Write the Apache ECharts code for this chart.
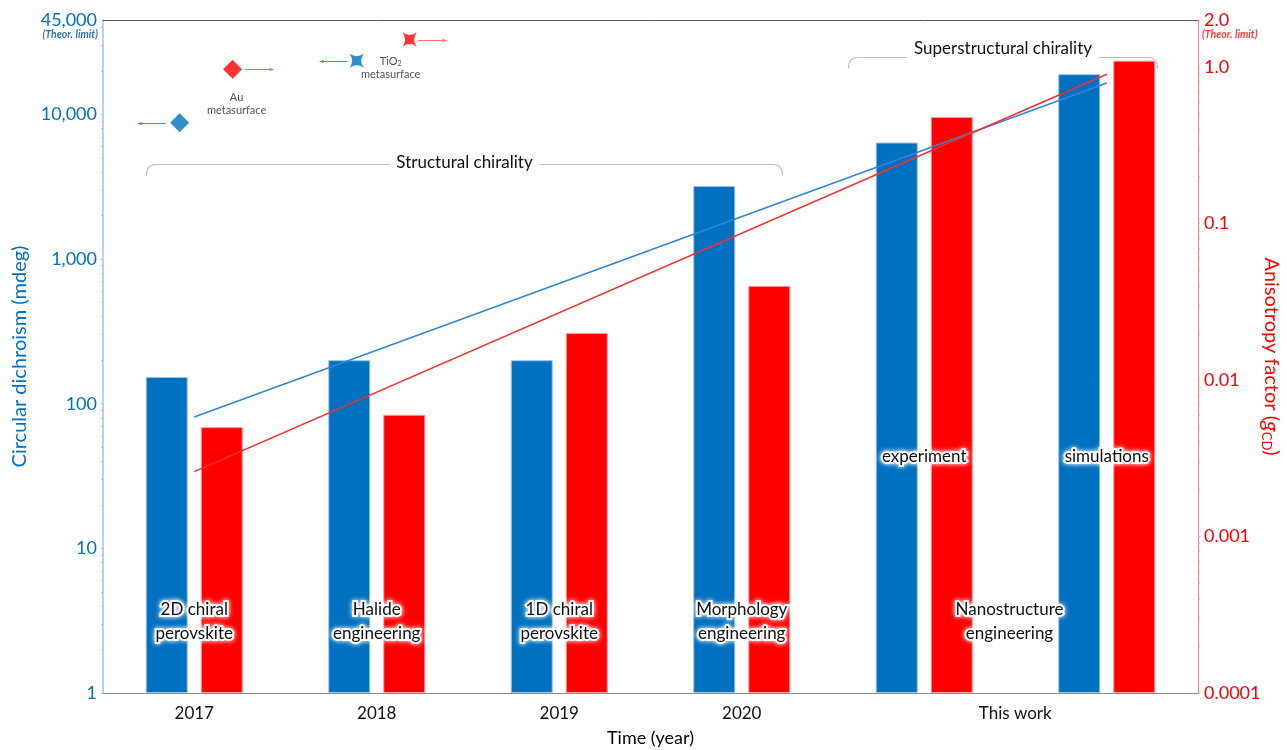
<!DOCTYPE html>
<html><head><meta charset="utf-8">
<script src="https://cdn.jsdelivr.net/npm/echarts@6/dist/echarts.min.js"></script>
<style>html,body{margin:0;padding:0;background:#fff;overflow:hidden;width:1287px;height:750px}#chart{width:1287px;height:750px}</style>
</head><body><div id="chart"></div>
<script>
// Categories along the time axis (the last two share the "This work" group label)
const categories = ['2017', '2018', '2019', '2020', 'This work', 'This work'];
const thisWorkLabel = 'This work';

// Circular dichroism (mdeg, left log axis) and anisotropy factor (g_CD, right log axis)
const circularDichroism = [153, 200, 200, 3200, 6400, 19000];
const anisotropyFactor = [0.005, 0.006, 0.02, 0.04, 0.48, 1.1];

// Exponential trend lines, start/end at first and last category
const cdTrend = [[0, 81], [5, 16500]];
const gTrend = [[0, 0.0026], [5, 0.90]];

// Approach labels drawn on the bar groups
const approaches = ['2D chiral\nperovskite', 'Halide\nengineering', '1D chiral\nperovskite', 'Morphology\nengineering'];
const thisWorkApproach = 'Nanostructure\nengineering';
const thisWorkNotes = ['experiment', 'simulations'];

// Metasurface reference points: [year, value]
const auCD = [[2016.92, 8750]];
const auG = [[2017.21, 0.97]];
const tio2CD = [[2017.89, 23500]];
const tio2G = [[2018.18, 1.5]];

// Axis labels
const cdTicks = [1, 10, 100, 1000, 10000, 45000];
const gTicks = [0.0001, 0.001, 0.01, 0.1, 1, 2];
const limitNote = '(Theor. limit)';

// Bracket annotations
const bracketTexts = ['Structural chirality', 'Superstructural chirality'];

const FONT = 'Lato, "Open Sans", sans-serif';
const BLUE = '#0070C0';
const RED = '#FF0000';
const W = 1287, H = 750;

function logMinor(from, to, extra) {
  const out = [];
  for (let d = from; d < to; d *= 10) {
    for (let k = 1; k < 10; k++) out.push(Number((k * d).toPrecision(6)));
  }
  out.push(to);
  return out.concat(extra || []);
}
const cdMinor = logMinor(1, 10000, [20000, 30000, 40000]);
const gMinor = logMinor(0.0001, 1, [2]);

const clean = v => Number(Number(v).toPrecision(6));

const STAR = 'path://M0,0 Q10,7 20,0 Q13,10 20,20 Q10,13 0,20 Q7,10 0,0Z';

function arrowSeries(data, yAxisIndex, color, dir, gap) {
  return {
    type: 'custom', xAxisIndex: 2, yAxisIndex: yAxisIndex, data: data, z: 4, silent: true,
    renderItem: function (params, api) {
      const p = api.coord([api.value(0), api.value(1)]);
      const y = Math.round(p[1]) + 0.5;
      const x0 = p[0] + dir * gap, x1 = p[0] + dir * (gap + 28);
      return {
        type: 'group', children: [
          { type: 'line', shape: { x1: x0, y1: y, x2: x1, y2: y }, style: { stroke: color, lineWidth: 1 } },
          { type: 'polygon', shape: { points: [[x1, y], [x1 - dir * 4, y - 1.8], [x1 - dir * 4, y + 1.8]] }, style: { fill: color } }
        ]
      };
    }
  };
}

const chart = echarts.init(document.getElementById('chart'), null, { renderer: 'canvas', width: W, height: H });

const option = {
  animation: false,
  backgroundColor: '#fff',
  textStyle: { fontFamily: FONT },
  grid: { left: 103, right: 89, top: 20, bottom: 57, containLabel: false, outerBoundsMode: 'none' },
  xAxis: [
    {
      type: 'category', data: categories, position: 'bottom',
      name: 'Time (year)', nameLocation: 'middle', nameGap: 36,
      nameTextStyle: { color: '#000', fontSize: 18, fontFamily: FONT },
      axisLine: { show: true, lineStyle: { color: '#8C8C8C', width: 1 } },
      axisTick: { show: false },
      axisLabel: {
        interval: 0, margin: 12, color: '#111', fontSize: 17, fontFamily: FONT,
        formatter: function (v, i) { return i === 4 ? '{w|' + thisWorkLabel + '}' : (i === 5 ? '' : v); },
        rich: { w: { padding: [0, 0, 0, 182], color: '#111', fontSize: 17, fontFamily: FONT } }
      },
      splitLine: { show: false }
    },
    {
      type: 'category', data: categories, position: 'top',
      axisLine: { show: true, lineStyle: { color: '#595959', width: 1 } },
      axisTick: { show: false }, axisLabel: { show: false }, splitLine: { show: false }
    },
    { type: 'value', min: 2016.5, max: 2022.5, show: false }
  ],
  yAxis: [
    {
      type: 'log', logBase: 10, min: 1, max: 45000, position: 'left',
      name: 'Circular dichroism (mdeg)', nameLocation: 'middle', nameGap: 72, nameRotate: 90,
      nameTextStyle: { color: BLUE, fontSize: 20, fontFamily: FONT },
      axisLine: { show: true, lineStyle: { color: '#9DC3E6', width: 1.5 } },
      axisTick: { show: true, length: 2, customValues: cdMinor, lineStyle: { color: '#9DC3E6' } },
      axisLabel: {
        customValues: cdTicks, margin: 6, color: BLUE, fontSize: 18, fontFamily: FONT,
        formatter: function (v) { return clean(v).toLocaleString('en-US'); }
      },
      splitLine: { show: false }
    },
    {
      type: 'log', logBase: 10, min: 0.0001, max: 2, position: 'right', startValue: 0.0001,
      name: '{n|Anisotropy factor (}{i|g}{s|CD}{n|)}', nameLocation: 'middle', nameGap: 62, nameRotate: -90,
      nameMoveOverlap: false,
      nameTextStyle: {
        color: RED, fontSize: 20, fontFamily: FONT,
        rich: {
          n: { color: RED, fontSize: 20, fontFamily: FONT },
          i: { color: RED, fontSize: 22, fontStyle: 'italic', fontFamily: FONT },
          s: { color: RED, fontSize: 13, fontFamily: FONT, padding: [9, 0, 0, 0] }
        }
      },
      axisLine: { show: true, lineStyle: { color: '#FF7F7F', width: 1 } },
      axisTick: { show: true, length: 2, customValues: gMinor, lineStyle: { color: '#FF9F9F' } },
      axisLabel: {
        customValues: gTicks, margin: 6, color: RED, fontSize: 18, fontFamily: FONT,
        formatter: function (v) { const n = clean(v); return n >= 1 ? n.toFixed(1) : String(n); }
      },
      splitLine: { show: false }
    }
  ],
  series: [
    {
      type: 'bar', name: 'CD', xAxisIndex: 0, yAxisIndex: 0, data: circularDichroism,
      barWidth: 42, barGap: '31%', z: 2,
      itemStyle: { color: BLUE, borderColor: '#9DC3E6', borderWidth: 1 }
    },
    {
      type: 'bar', name: 'gCD', xAxisIndex: 0, yAxisIndex: 1, data: anisotropyFactor,
      barWidth: 42, barGap: '31%', z: 2,
      itemStyle: { color: RED, borderColor: '#FF9F9F', borderWidth: 1 }
    },
    {
      type: 'line', xAxisIndex: 0, yAxisIndex: 0, data: cdTrend, showSymbol: false, z: 3,
      lineStyle: { color: '#2E86D6', width: 1.5 }, silent: true
    },
    {
      type: 'line', xAxisIndex: 0, yAxisIndex: 1, data: gTrend, showSymbol: false, z: 3,
      lineStyle: { color: '#FF2A2A', width: 1.5 }, silent: true
    },
    {
      type: 'scatter', xAxisIndex: 2, yAxisIndex: 0, data: auCD, symbol: 'diamond', symbolSize: [19, 19],
      itemStyle: { color: BLUE }, z: 5
    },
    {
      type: 'scatter', xAxisIndex: 2, yAxisIndex: 1, data: auG, symbol: 'diamond', symbolSize: [19, 19],
      itemStyle: { color: RED }, z: 5,
      label: {
        show: true, position: 'bottom', distance: 12, offset: [4, 0], formatter: 'Au\nmetasurface',
        color: '#262626', fontSize: 11, lineHeight: 13, fontFamily: FONT
      }
    },
    {
      type: 'scatter', xAxisIndex: 2, yAxisIndex: 0, data: tio2CD, symbol: STAR, symbolSize: [14, 14],
      itemStyle: { color: BLUE }, z: 5,
      label: {
        show: true, position: 'inside', offset: [34, 7],
        formatter: '{t|TiO}{b|2}\n{t|metasurface}',
        rich: {
          t: { color: '#262626', fontSize: 11, lineHeight: 13, fontFamily: FONT },
          b: { color: '#262626', fontSize: 7, lineHeight: 13, fontFamily: FONT, padding: [5, 0, 0, 0] }
        }
      }
    },
    {
      type: 'scatter', xAxisIndex: 2, yAxisIndex: 1, data: tio2G, symbol: STAR, symbolSize: [14, 14],
      itemStyle: { color: RED }, z: 5
    },
    arrowSeries(auCD, 0, '#4A90D9', -1, 14),
    arrowSeries(auG, 1, '#FF6B6B', 1, 13),
    arrowSeries(tio2CD, 0, '#4A90D9', -1, 9),
    arrowSeries(tio2G, 1, '#FF6B6B', 1, 9)
  ]
};

chart.setOption(option);

// Annotations placed from the axes' own pixel mapping
function cx(i) { return chart.convertToPixel({ xAxisIndex: 0 }, i); }
function cdY(v) { return chart.convertToPixel({ yAxisIndex: 0 }, v); }

const gridTop = cdY(45000);
const gridBottom = cdY(1);
const plotLeft = 103, plotRight = W - 89;

const haloText = {
  fill: '#111', fontSize: 17, fontFamily: FONT, lineHeight: 24,
  stroke: 'rgba(255,255,255,0.95)', lineWidth: 4, align: 'center', verticalAlign: 'middle',
  textShadowColor: '#fff', textShadowBlur: 5
};

const graphics = [];

approaches.forEach(function (t, i) {
  graphics.push({ type: 'text', x: cx(i), y: gridBottom - 71, z: 20, style: Object.assign({ text: t }, haloText) });
});
graphics.push({ type: 'text', x: (cx(4) + cx(5)) / 2 - 6, y: gridBottom - 71, z: 20, style: Object.assign({ text: thisWorkApproach }, haloText) });
thisWorkNotes.forEach(function (t, k) {
  graphics.push({ type: 'text', x: cx(4 + k), y: gridBottom - 236, z: 20, style: Object.assign({ text: t }, haloText) });
});

// "(Theor. limit)" notes beneath the top tick labels
graphics.push({
  type: 'text', x: plotLeft - 5, y: gridTop + 15, z: 20,
  style: { text: limitNote, fill: '#2E75B6', fontSize: 10.5, fontStyle: 'italic', fontWeight: 'bold', fontFamily: FONT, align: 'right', verticalAlign: 'middle' }
});
graphics.push({
  type: 'text', x: plotRight + 4, y: gridTop + 15, z: 20,
  style: { text: limitNote, fill: '#FF3B3B', fontSize: 10.5, fontStyle: 'italic', fontWeight: 'bold', fontFamily: FONT, align: 'left', verticalAlign: 'middle' }
});

function bracket(x0, x1, y, label, ty) {
  const r = 9, drop = 11;
  const st = { stroke: '#BFBFBF', lineWidth: 1.2, fill: null };
  graphics.push({
    type: 'group', z: 6, silent: true,
    children: [
      { type: 'line', shape: { x1: x0 + r, y1: y, x2: x1 - r, y2: y }, style: st },
      { type: 'bezierCurve', shape: { x1: x0, y1: y + drop, cpx1: x0, cpy1: y, x2: x0 + r, y2: y }, style: st },
      { type: 'bezierCurve', shape: { x1: x1 - r, y1: y, cpx1: x1, cpy1: y, x2: x1, y2: y + drop }, style: st }
    ]
  });
  graphics.push({
    type: 'text', x: (x0 + x1) / 2, y: ty, z: 7,
    style: {
      text: label, fill: '#111', fontSize: 17, fontFamily: FONT, align: 'center', verticalAlign: 'middle',
      backgroundColor: '#fff', padding: [2, 7, 2, 7]
    }
  });
}
bracket(Math.round(cx(0) - 48) + 0.5, Math.round(cx(3) + 40) + 0.5, Math.round(gridTop + 144) + 0.5, bracketTexts[0], gridTop + 143);
bracket(Math.round(cx(4) - 76) + 0.5, Math.round(cx(5) + 50) + 0.5, Math.round(gridTop + 37) + 0.5, bracketTexts[1], gridTop + 29);

chart.setOption({ graphic: graphics });
</script>
</body></html>
